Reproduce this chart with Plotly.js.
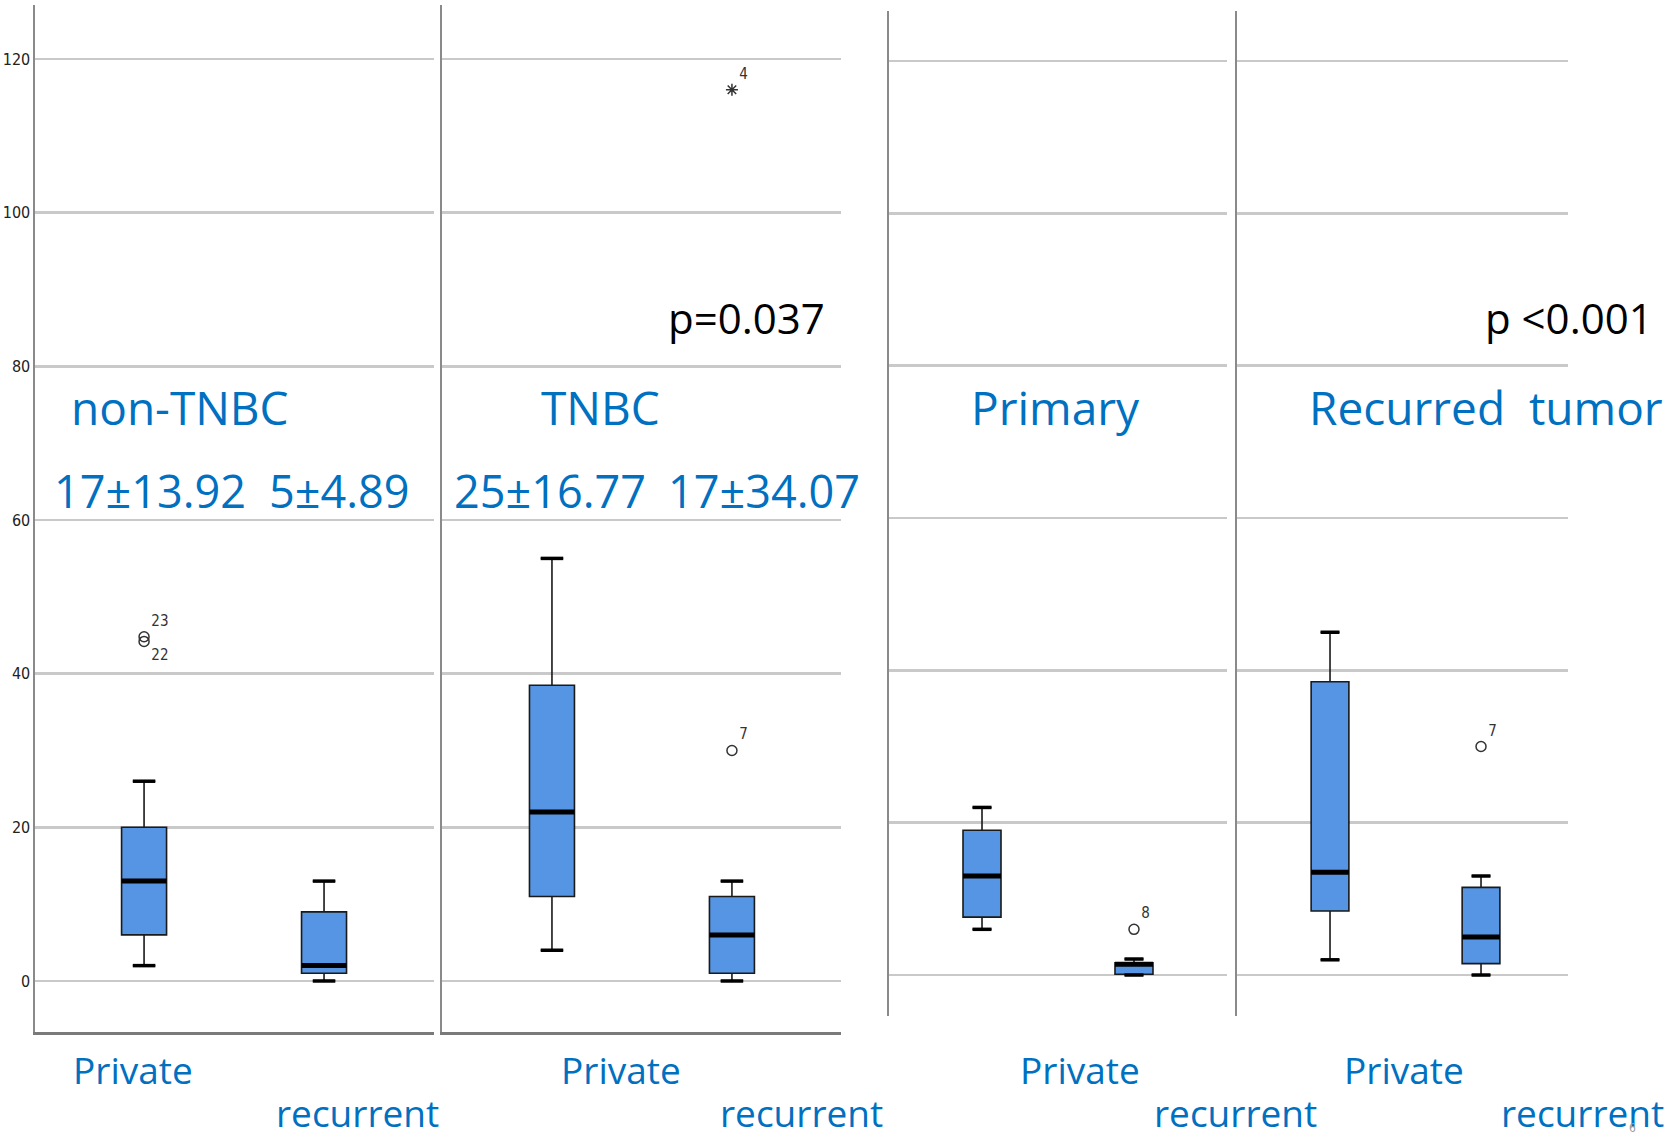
<!DOCTYPE html>
<html>
<head>
<meta charset="utf-8">
<script src="https://cdn.plot.ly/plotly-3.0.1.min.js"></script>
<style>html,body{margin:0;padding:0;background:#fff;}#chart{width:1680px;height:1138px;}</style>
</head>
<body>
<div id="chart"></div>
<script>
// ---------- data ----------
const groups = ["Private", "recurrent"];
const panelTitles = ["non-TNBC", "TNBC", "Primary", "Recurred  tumor"];
const meanSdLabels = ["17±13.92", "5±4.89", "25±16.77", "17±34.07"];
const pValues = ["p=0.037", "p <0.001"];
const yTickVals = [0, 20, 40, 60, 80, 100, 120];

// box statistics per panel: [Private, recurrent]
const nonTNBC_q1 = [6, 1],     nonTNBC_med = [13, 2],   nonTNBC_q3 = [20, 9],     nonTNBC_lo = [2, 0], nonTNBC_hi = [26, 13];
const TNBC_q1 = [11, 1],       TNBC_med = [22, 6],      TNBC_q3 = [38.5, 11],     TNBC_lo = [4, 0],    TNBC_hi = [55, 13];
const primary_q1 = [7.6, 0.1], primary_med = [13, 1.4], primary_q3 = [19, 1.6],   primary_lo = [6, 0], primary_hi = [22, 2.1];
const recur_q1 = [8.4, 1.5],   recur_med = [13.5, 5],   recur_q3 = [38.5, 11.5],  recur_lo = [2, 0],   recur_hi = [45, 13];

// outliers (circles) and extremes (asterisks)
const nonTNBC_outX = ["Private", "Private"], nonTNBC_outY = [44.2, 44.8], nonTNBC_outLbl = ["22", "23"];
const TNBC_outX = ["recurrent"], TNBC_outY = [30], TNBC_outLbl = ["7"];
const TNBC_extX = ["recurrent"], TNBC_extY = [116], TNBC_extLbl = ["4"];
const primary_outX = ["recurrent"], primary_outY = [6], primary_outLbl = ["8"];
const recur_outX = ["recurrent"], recur_outY = [30], recur_outLbl = ["7"];

// ---------- build ----------
const W = 1680, H = 1138;
const px = v => v / W;
const py = v => 1 - v / H;

const BOX_FILL = "#5595e3";
const BLUE = "#0070c0";
const stats = [
  [nonTNBC_q1, nonTNBC_med, nonTNBC_q3, nonTNBC_lo, nonTNBC_hi],
  [TNBC_q1, TNBC_med, TNBC_q3, TNBC_lo, TNBC_hi],
  [primary_q1, primary_med, primary_q3, primary_lo, primary_hi],
  [recur_q1, recur_med, recur_q3, recur_lo, recur_hi]
];
const BOXW = 0.25;

const traces = [];
const shapes = [];
stats.forEach((s, i) => {
  const xa = "x" + (i + 1), ya = "y" + (i + 1);
  traces.push({
    type: "box", x: groups, q1: s[0], median: s[1], q3: s[2], lowerfence: s[3], upperfence: s[4],
    xaxis: xa, yaxis: ya, width: BOXW, whiskerwidth: 0.5, boxpoints: false,
    fillcolor: BOX_FILL, line: {color: "#1a1a1a", width: 1.6}, hoverinfo: "skip"
  });
  groups.forEach((g, j) => {
    shapes.push({type: "line", xref: xa, yref: ya, x0: j - BOXW / 2, x1: j + BOXW / 2, y0: s[1][j], y1: s[1][j],
      line: {color: "#000", width: 5}, layer: "above"});
    [s[3][j], s[4][j]].forEach(v => {
      shapes.push({type: "line", xref: xa, yref: ya, x0: j - BOXW / 4, x1: j + BOXW / 4, y0: v, y1: v,
        line: {color: "#000", width: 3.5}, layer: "above"});
    });
  });
});

const lblFont = {family: "DejaVu Sans Condensed, Liberation Sans Narrow, sans-serif", size: 15, color: "#333"};
function outTrace(x, y, lbl, xa, ya, sym, pos) {
  return {type: "scatter", mode: "markers+text", x: x, y: y, text: lbl, xaxis: xa, yaxis: ya,
    textposition: pos || "top right", textfont: lblFont, hoverinfo: "skip",
    marker: {symbol: sym || "circle-open", size: 10, color: "#333", line: {width: 1.5, color: "#333"}},
    cliponaxis: false};
}
traces.push(outTrace(nonTNBC_outX, nonTNBC_outY, nonTNBC_outLbl, "x1", "y1", "circle-open", ["bottom right", "top right"]));
traces.push(outTrace(TNBC_outX, TNBC_outY, TNBC_outLbl, "x2", "y2"));
traces.push(outTrace(TNBC_extX, TNBC_extY, TNBC_extLbl, "x2", "y2", "asterisk-open"));
traces.push(outTrace(primary_outX, primary_outY, primary_outLbl, "x3", "y3"));
traces.push(outTrace(recur_outX, recur_outY, recur_outLbl, "x4", "y4"));

// panel geometry (pixels)
const xDom = [[35, 434], [442, 841], [889, 1227], [1237, 1568]];
const xRng = [[-0.606, 1.611], [-0.611, 1.606], [-0.612, 1.612], [-0.616, 1.576]];
const yDomA = [py(1032), py(5)], yRngA = [-6.64, 127.03];
const yDomB = [py(1016), py(11)], yRngB = [-5.38, 126.56];

const layout = {
  width: W, height: H, margin: {l: 0, r: 0, t: 0, b: 0},
  paper_bgcolor: "#fff", plot_bgcolor: "rgba(0,0,0,0)", showlegend: false,
  shapes: shapes, annotations: []
};
for (let i = 0; i < 4; i++) {
  const top = i < 2;
  layout["xaxis" + (i + 1)] = {
    domain: [px(xDom[i][0]), px(xDom[i][1])], range: xRng[i], type: "category",
    anchor: "y" + (i + 1), showgrid: false, zeroline: false, showticklabels: false, ticks: "",
    showline: top, linecolor: "#7a7a7a", linewidth: 3, fixedrange: true
  };
  layout["yaxis" + (i + 1)] = {
    domain: top ? yDomA : yDomB, range: top ? yRngA : yRngB,
    anchor: "x" + (i + 1), tickvals: yTickVals, ticktext: yTickVals.map(String),
    showticklabels: i === 0, ticks: "",
    tickfont: {family: "DejaVu Sans Condensed, Liberation Sans Narrow, sans-serif", size: 16, color: "#222"},
    showgrid: true, gridcolor: "#c9c9c9", gridwidth: 2.5, zeroline: false,
    showline: true, linecolor: "#8a8a8a", linewidth: 1.6, fixedrange: true
  };
}

const big = (text, x, y, size, color) => ({
  text: text, xref: "paper", yref: "paper", x: px(x), y: py(y), xanchor: "center", yanchor: "middle",
  showarrow: false, font: {family: "Open Sans, Noto Sans, sans-serif", size: size, color: color}
});
const titleX = [180, 600, 1055, 1486];
panelTitles.forEach((t, i) => layout.annotations.push(big(t, titleX[i], 407, 46, BLUE)));
const msX = [150, 339, 550, 764];
meanSdLabels.forEach((t, i) => layout.annotations.push(big(t, msX[i], 491, 45, BLUE)));
const pX = [746, 1569];
pValues.forEach((t, i) => layout.annotations.push(big(t, pX[i], 317, 42, "#000")));
const privX = [133, 621, 1080, 1404];
const recX = [357, 801, 1235, 1582];
privX.forEach(x => layout.annotations.push(big(groups[0], x, 1069, 37, BLUE)));
recX.forEach(x => layout.annotations.push(big(groups[1], x, 1112, 37, BLUE)));
layout.annotations.push({text: "6", xref: "paper", yref: "paper", x: px(1632), y: py(1128), xanchor: "center", yanchor: "middle",
  showarrow: false, font: {family: "DejaVu Sans Condensed, sans-serif", size: 12, color: "#999"}});

Plotly.newPlot("chart", traces, layout, {displayModeBar: false, staticPlot: true});
</script>
</body>
</html>
